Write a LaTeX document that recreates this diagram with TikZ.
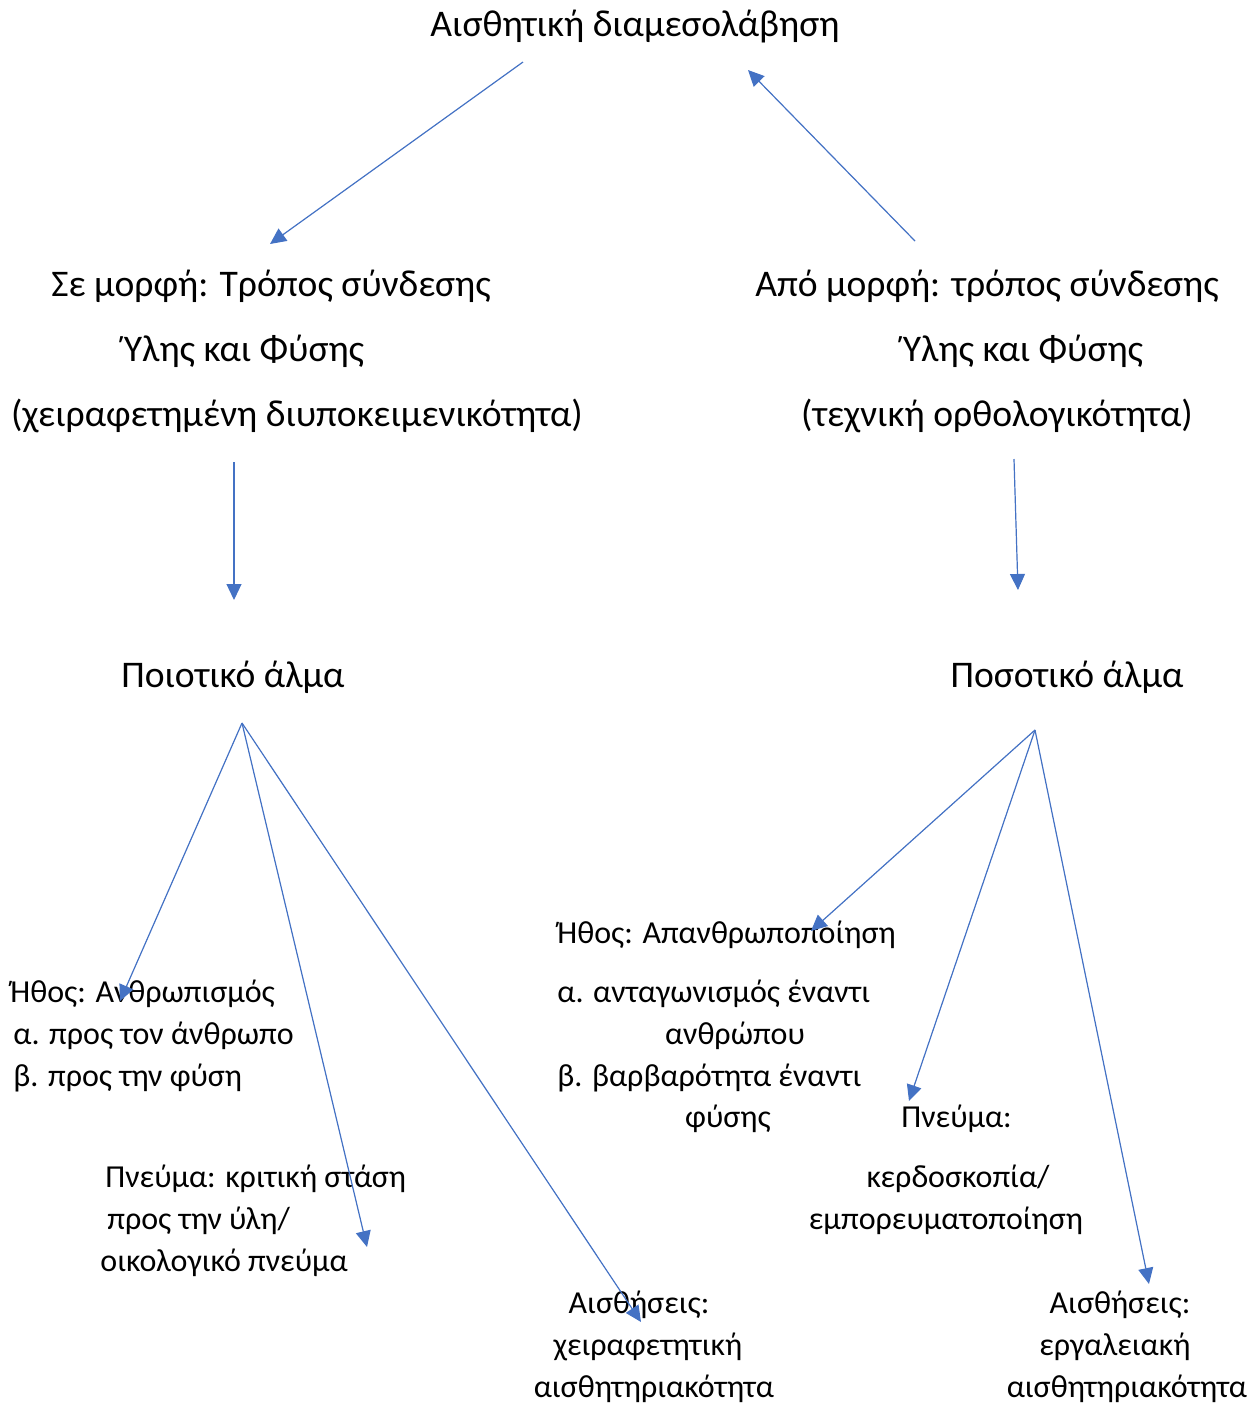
\documentclass[tikz,border=0pt]{standalone}
\usepackage{fontspec}
\setmainfont{Carlito}
\usetikzlibrary{arrows.meta}
\definecolor{arr}{HTML}{4472C4}
\tikzset{
  big/.style={inner sep=0pt, font=\fontsize{18.8}{22}\selectfont},
  small/.style={inner sep=0pt, font=\fontsize{16}{19}\selectfont},
  conn/.style={draw=arr, line width=0.6pt, -{Triangle[length=8pt,width=7.5pt]}, fill=arr},
}
\begin{document}
\begin{tikzpicture}[x=0.5pt,y=-0.5pt]
\useasboundingbox (0,0) rectangle (1258,1405);
% big texts
\node[big, anchor=mid] (title) at (635,32) {Αισθητική διαμεσολάβηση};
\node[big, anchor=mid] (l1) at (271,292) {Σε μορφή: Τρόπος σύνδεσης};
\node[big, anchor=mid] (l2) at (244,357) {Ύλης και Φύσης};
\node[big, anchor=mid] (l3) at (297,422) {(χειραφετημένη διυποκειμενικότητα)};
\node[big, anchor=mid] (r1) at (987,292) {Από μορφή: τρόπος σύνδεσης};
\node[big, anchor=mid] (r2) at (1023,357) {Ύλης και Φύσης};
\node[big, anchor=mid] (r3) at (997,422) {(τεχνική ορθολογικότητα)};
\node[big, anchor=mid] (qual) at (233,683) {Ποιοτικό άλμα};
\node[big, anchor=mid] (quan) at (1067,683) {Ποσοτικό άλμα};
% left small texts
\node[small, anchor=mid west] (e1) at (10,998) {Ήθος: Ανθρωπισμός};
\node[small, anchor=mid west] (e2) at (13,1040) {α. προς τον άνθρωπο};
\node[small, anchor=mid west] (e3) at (13,1082) {β. προς την φύση};
\node[small, anchor=mid west] (p1) at (105,1183) {Πνεύμα: κριτική στάση};
\node[small, anchor=mid west] (p2) at (107,1225) {προς την ύλη/};
\node[small, anchor=mid west] (p3) at (100,1267) {οικολογικό πνεύμα};
\node[small, anchor=mid] (s1) at (639,1309) {Αισθήσεις:};
\node[small, anchor=mid] (s2) at (648,1351) {χειραφετητική};
\node[small, anchor=mid] (s3) at (654,1393) {αισθητηριακότητα};
% right small texts
\node[small, anchor=mid west] (f1) at (557,939) {Ήθος: Απανθρωποποίηση};
\node[small, anchor=mid west] (f2) at (557,998) {α. ανταγωνισμός έναντι};
\node[small, anchor=mid] (f3) at (735,1040) {ανθρώπου};
\node[small, anchor=mid west] (f4) at (557,1082) {β. βαρβαρότητα έναντι};
\node[small, anchor=mid] (f5) at (728,1123) {φύσης};
\node[small, anchor=mid west] (q1) at (901,1123) {Πνεύμα:};
\node[small, anchor=mid] (q2) at (958,1183) {κερδοσκοπία/};
\node[small, anchor=mid] (q3) at (946,1225) {εμπορευματοποίηση};
\node[small, anchor=mid] (t1) at (1120,1309) {Αισθήσεις:};
\node[small, anchor=mid] (t2) at (1115,1351) {εργαλειακή};
\node[small, anchor=mid] (t3) at (1127,1393) {αισθητηριακότητα};
% connector endpoints
\coordinate (a1s) at (523,62);
\coordinate (a1e) at (270,244);
\coordinate (a2s) at (915,241);
\coordinate (a2e) at (748,70);
\coordinate (a3s) at (234,462);
\coordinate (a3e) at (234,600);
\coordinate (a4s) at (1014,459);
\coordinate (a4e) at (1018,590);
\coordinate (qs) at (242,723);
\coordinate (b1e) at (120,1001);
\coordinate (b2e) at (367,1247);
\coordinate (b3e) at (641,1322);
\coordinate (ns) at (1035,730);
\coordinate (c1e) at (811,931);
\coordinate (c2e) at (909,1101);
\coordinate (c3e) at (1149,1284);
% connectors
\draw[conn] (a1s) -- (a1e);
\draw[conn] (a2s) -- (a2e);
\draw[conn] (a3s) -- (a3e);
\draw[conn] (a4s) -- (a4e);
\draw[conn] (qs) -- (b1e);
\draw[conn] (qs) -- (b2e);
\draw[conn] (qs) -- (b3e);
\draw[conn] (ns) -- (c1e);
\draw[conn] (ns) -- (c2e);
\draw[conn] (ns) -- (c3e);
\end{tikzpicture}
\end{document}
